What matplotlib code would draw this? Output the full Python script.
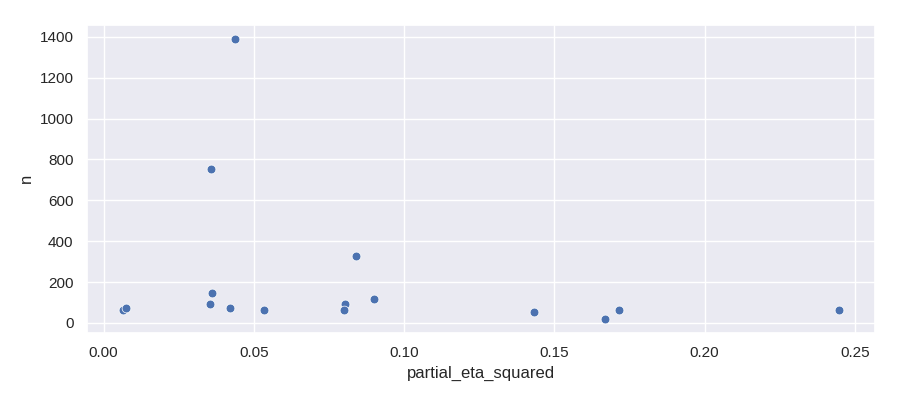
import matplotlib
matplotlib.use("Agg")
import matplotlib.pyplot as plt
import seaborn as sns
import pandas as pd

partial_eta_squared = [0.0063, 0.0073, 0.0356, 0.0360, 0.0353, 0.0420, 0.0436, 0.0533,
                       0.0802, 0.0799, 0.0839, 0.0899, 0.1433, 0.1669, 0.1717, 0.2448]
n = [63, 73, 754, 145, 92, 73, 1390, 63, 92, 63, 326, 117, 52, 20, 62, 62]

sns.set_theme()
plt.rcParams['font.family'] = ['Liberation Sans', 'DejaVu Sans']
df = pd.DataFrame({"partial_eta_squared": partial_eta_squared, "n": n})
fig, ax = plt.subplots(figsize=(9, 4), dpi=100)
sns.scatterplot(data=df, x="partial_eta_squared", y="n", ax=ax, s=40)
fig.subplots_adjust(left=0.0963, right=0.9722, top=0.938, bottom=0.168)
fig.savefig("out.png", dpi=100)
